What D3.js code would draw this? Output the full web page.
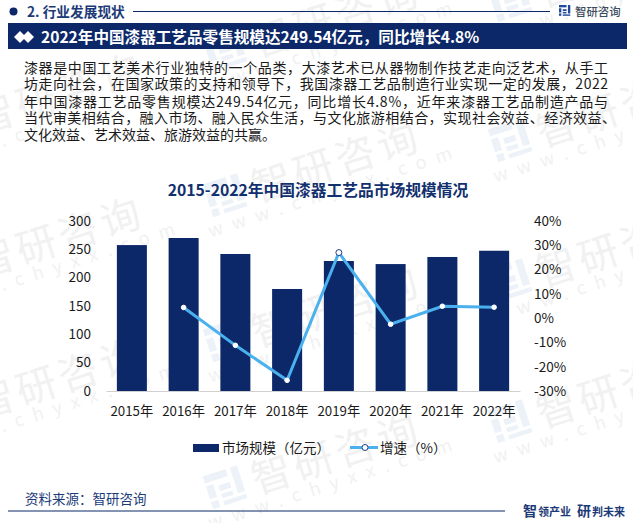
<!DOCTYPE html>
<html><head><meta charset="utf-8">
<script src="https://cdnjs.cloudflare.com/ajax/libs/d3/7.8.5/d3.min.js"></script>
<style>
html,body{margin:0;padding:0;background:#fff}
svg{display:block}
text{font-family:"Noto Sans CJK SC","Noto Sans",sans-serif}
</style></head><body><svg id="c" width="633" height="523"></svg>
<script>
const years=["2015年","2016年","2017年","2018年","2019年","2020年","2021年","2022年"];
const marketSize=[257.5,270,241.8,180,229.4,224,236.5,247.5];
const growth=[null,4.4,-11.2,-25.6,27,-2.5,4.9,4.5];
const leftTicks=[0,50,100,150,200,250,300];
const rightTicks=[-30,-20,-10,0,10,20,30,40];
const bodyLines=[
"漆器是中国工艺美术行业独特的一个品类，大漆艺术已从器物制作技艺走向泛艺术，从手工",
"坊走向社会，在国家政策的支持和领导下，我国漆器工艺品制造行业实现一定的发展，2022",
"年中国漆器工艺品零售规模达249.54亿元，同比增长4.8%，近年来漆器工艺品制造产品与",
"当代审美相结合，融入市场、融入民众生活，与文化旅游相结合，实现社会效益、经济效益、",
"文化效益、艺术效益、旅游效益的共赢。"];
const bodyEnds=[608,608,608,616,null];
const marks=[[-52,127],[-52,271],[-52,412],[225,50],[225,195],[225,340],[225,487],[510,0],[510,140],[510,280],[510,421]];

const NAVY="#0c2869",BLUE="#4ab1ee";
const svg=d3.select("#c");
const W=svg.append("g");
function logo(g,s,col){
  const r=[[0,0,16,5],[0,7,5,9],[0,18,5,5],[8,9,8,4],[8,15,8,3],[19,0,5,18],[8,20,16,3]];
  g.selectAll("rect.l").data(r).join("rect").attr("x",d=>d[0]*s).attr("y",d=>d[1]*s)
   .attr("width",d=>d[2]*s).attr("height",d=>d[3]*s).attr("fill",col);
}
marks.forEach(m=>{
  const g=W.append("g").attr("transform",`translate(${m[0]},${m[1]}) rotate(-18)`);
  logo(g.append("g").attr("transform","translate(-18,-17)"),1.5,"#edf2f8");
  g.append("text").attr("x",28).attr("y",17).attr("font-size",40).attr("fill","#f1f1f1").attr("letter-spacing",4).text("智研咨询");
  g.append("text").attr("x",-27).attr("y",36).attr("font-size",18).attr("fill","#f1f1f1").attr("letter-spacing",10).text("www.chyxx.com");
});

// header
svg.append("circle").attr("cx",13.5).attr("cy",11.5).attr("r",4).attr("fill",NAVY);
svg.append("text").attr("x",27).attr("y",17).attr("font-size",13.7).attr("font-weight",700).attr("fill","#1c3a78").text("2. 行业发展现状");
svg.append("line").attr("x1",133).attr("x2",550).attr("y1",11.5).attr("y2",11.5).attr("stroke",NAVY).attr("stroke-width",1);
logo(svg.append("g").attr("transform","translate(559,5)"),0.47,"#1f4a9c");
svg.append("text").attr("x",575).attr("y",16).attr("font-size",11.4).attr("font-weight",500).attr("fill","#3d4c5c").text("智研咨询");
svg.append("rect").attr("x",8).attr("y",23).attr("width",619).attr("height",26).attr("fill",NAVY);
[20,28].forEach(x=>svg.append("path").attr("d",`M${x-6},37 L${x},31 L${x+6},37 L${x},43 Z`).attr("fill","#fff"));
svg.append("text").attr("x",41).attr("y",43).attr("font-size",15.6).attr("font-weight",700).attr("fill","#fff").text("2022年中国漆器工艺品零售规模达249.54亿元，同比增长4.8%");

// body
const ys=[72.5,89,106.5,123,140];
bodyLines.forEach((t,i)=>{
  const n=svg.append("text").attr("x",24).attr("y",ys[i]).attr("font-size",14).attr("fill","#1a1a1a").text(t);
  if(bodyEnds[i]) n.attr("textLength",bodyEnds[i]-24).attr("lengthAdjust","spacing");
});

// chart
svg.append("text").attr("x",318).attr("y",196).attr("text-anchor","middle").attr("font-size",15.75).attr("font-weight",700).attr("fill","#12306e").text("2015-2022年中国漆器工艺品市场规模情况");
const x=d3.scaleBand().domain(years).range([106,520]).paddingInner(0.42).paddingOuter(0.21);
const yL=d3.scaleLinear().domain([0,300]).range([391,221]);
const yR=d3.scaleLinear().domain([-30,40]).range([391,221]);
svg.append("g").selectAll("rect").data(years).join("rect")
  .attr("x",d=>x(d)).attr("width",x.bandwidth())
  .attr("y",(d,i)=>yL(marketSize[i])).attr("height",(d,i)=>yL(0)-yL(marketSize[i])).attr("fill",NAVY);

const axB=svg.append("g").attr("transform","translate(0,391)").call(d3.axisBottom(x).tickSize(0).tickPadding(16));
axB.select(".domain").attr("stroke","#d0d0d0");
axB.selectAll("text").attr("font-size",13.3).attr("fill","#1a1a1a").attr("font-family",'"Noto Sans CJK SC"');
const axL=svg.append("g").attr("transform","translate(91,0)").call(d3.axisLeft(yL).tickValues(leftTicks).tickSize(0).tickPadding(0));
axL.select(".domain").remove();
axL.selectAll("text").attr("font-size",13.5).attr("fill","#1a1a1a").attr("font-family",'"Noto Sans CJK SC"');
const axR=svg.append("g").attr("transform","translate(534,0)").call(d3.axisRight(yR).tickValues(rightTicks).tickFormat(d=>d+"%").tickSize(0).tickPadding(0));
axR.select(".domain").remove();
axR.selectAll("text").attr("font-size",13.5).attr("fill","#1a1a1a").attr("font-family",'"Noto Sans CJK SC"');

const cx=y=>x(y)+x.bandwidth()/2;
const pts=years.map((y,i)=>({y,v:growth[i]})).filter(d=>d.v!==null);
const line=d3.line().x(d=>cx(d.y)).y(d=>yR(d.v));
svg.append("path").datum(pts).attr("d",line).attr("fill","none").attr("stroke",BLUE).attr("stroke-width",3);
svg.append("g").selectAll("circle").data(pts).join("circle")
  .attr("cx",d=>cx(d.y)).attr("cy",d=>yR(d.v)).attr("r",d=>d.y==="2019年"?3:2.3)
  .attr("fill","#fff").attr("stroke",d=>d.y==="2019年"?"#1f3f8f":"#fff").attr("stroke-width",1);

// legend
svg.append("rect").attr("x",193).attr("y",444).attr("width",26).attr("height",8).attr("fill",NAVY);
svg.append("text").attr("x",222).attr("y",452.5).attr("font-size",13.5).attr("fill","#1a1a1a").text("市场规模（亿元）");
svg.append("line").attr("x1",350).attr("x2",378).attr("y1",447.5).attr("y2",447.5).attr("stroke",BLUE).attr("stroke-width",3);
svg.append("circle").attr("cx",365).attr("cy",447.5).attr("r",3).attr("fill","#fff").attr("stroke","#1f3f8f").attr("stroke-width",1);
svg.append("text").attr("x",380).attr("y",452.5).attr("font-size",13.5).attr("fill","#1a1a1a").text("增速（%）");

// footer
svg.append("text").attr("x",25).attr("y",503.5).attr("font-size",13.5).attr("fill","#1c3a78").text("资料来源：智研咨询");
svg.append("line").attr("x1",8).attr("x2",505).attr("y1",511).attr("y2",511).attr("stroke",NAVY).attr("stroke-width",1);
const f=svg.append("text").attr("x",523).attr("y",516).attr("fill","#1c3a78").attr("font-weight",700);
f.append("tspan").attr("font-size",14).text("智");
f.append("tspan").attr("font-size",11).attr("dx",1).text("领产业");
f.append("tspan").attr("font-size",14).attr("dx",6).text("研");
f.append("tspan").attr("font-size",11).attr("dx",1).text("判未来");
</script></body></html>
